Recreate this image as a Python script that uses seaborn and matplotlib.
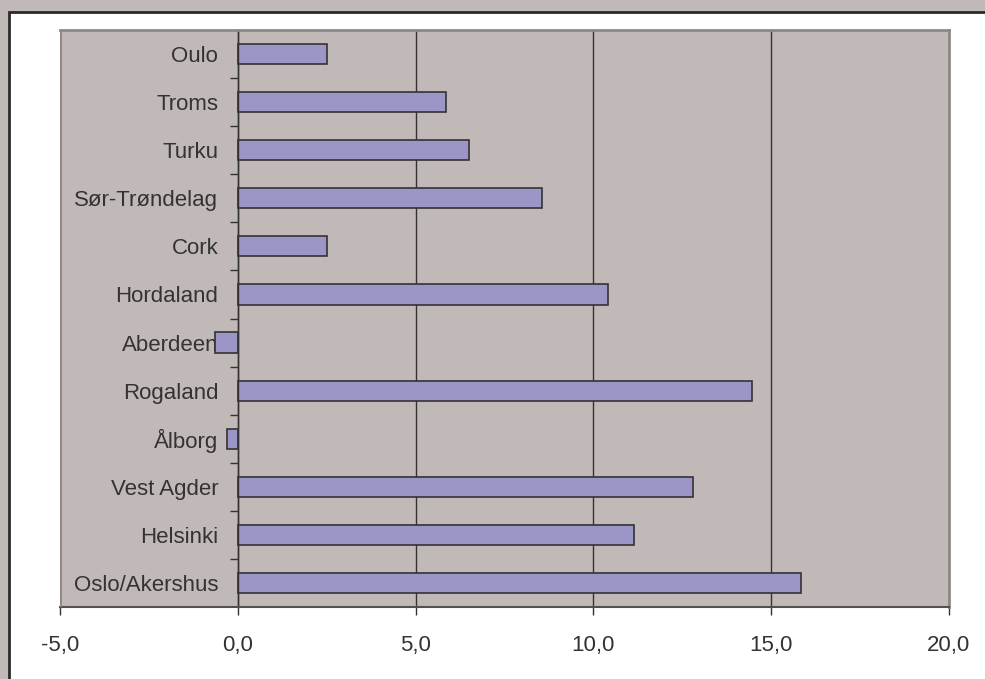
import pandas as pd
import matplotlib
matplotlib.use('Agg')
import matplotlib.pyplot as plt
import matplotlib.ticker as mticker
from matplotlib.patches import Rectangle
import seaborn as sns

regions = ['Oulo', 'Troms', 'Turku', 'Sør-Trøndelag', 'Cork', 'Hordaland',
           'Aberdeen', 'Rogaland', 'Ålborg', 'Vest Agder', 'Helsinki', 'Oslo/Akershus']
values = [2.5, 5.85, 6.5, 8.55, 2.5, 10.4, -0.65, 14.45, -0.3, 12.8, 11.15, 15.85]
xticks = [-5, 0, 5, 10, 15, 20]

data = pd.DataFrame({'region': regions, 'value': values})

bg = '#c1b9b7'
sns.set_theme(style='white')
plt.rcParams['font.family'] = ['Liberation Sans', 'DejaVu Sans']

fig = plt.figure(figsize=(9.85, 6.79), dpi=100, facecolor=bg)
# white chart area with dark frame on left/top
fig.patches.append(Rectangle((8.5 / 985, -0.01), 1.0, 1 - 11.5 / 679 + 0.01,
                             transform=fig.transFigure, facecolor='white',
                             edgecolor='#2a2a2a', linewidth=2, zorder=-1))

ax = fig.add_axes([60 / 985, 1 - 607 / 679, 889 / 985, 577 / 679])
ax.set_zorder(1)
ax.set_facecolor(bg)

sns.barplot(data=data, x='value', y='region', orient='h', color='#9c95c8',
            saturation=1, edgecolor='#333333', linewidth=1.2, width=0.42, ax=ax)

ax.set_xlim(-5, 20)
ax.set_ylim(len(regions) - 0.5, -0.5)
ax.set_xticks(xticks)
ax.xaxis.set_major_formatter(mticker.FuncFormatter(lambda v, p: f'{v:.1f}'.replace('.', ',')))
ax.set_xlabel('')
ax.set_ylabel('')

ax.set_axisbelow(True)
ax.xaxis.grid(True, color='#333333', linewidth=1)

# category axis crosses at 0
ax.spines['left'].set_position(('data', 0))
ax.spines['left'].set_color('#333333')
ax.spines['left'].set_linewidth(1)
for s in ['top', 'right']:
    ax.spines[s].set_color('#8f8784')
    ax.spines[s].set_linewidth(2)
ax.spines['bottom'].set_color('#555050')
ax.spines['bottom'].set_linewidth(1.5)
ax.axvline(-5, color='#8f8784', linewidth=2, zorder=5)

ax.set_yticks([i + 0.5 for i in range(len(regions) - 1)], minor=True)
ax.tick_params(axis='y', which='major', length=0, pad=14, labelsize=16, labelcolor='#333333')
ax.tick_params(axis='y', which='minor', length=6, width=1, color='#333333', left=True)
ax.tick_params(axis='x', which='major', bottom=True, length=6, width=1, color='#333333',
               pad=14, labelsize=16, labelcolor='#333333')

fig.savefig('out.png', dpi=100, facecolor=bg)
